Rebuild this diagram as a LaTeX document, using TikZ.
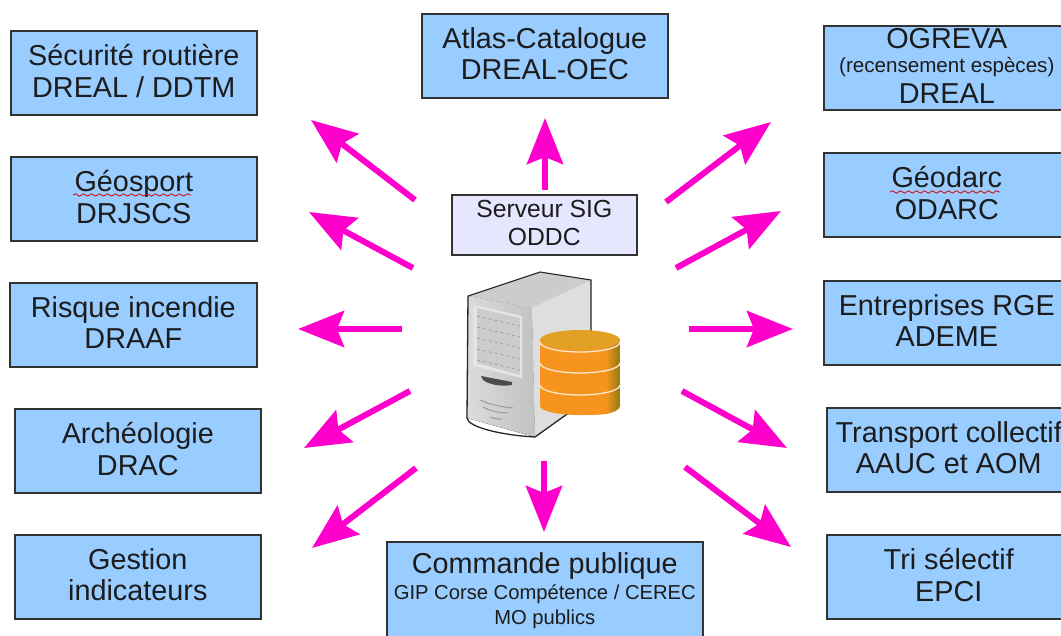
\documentclass[tikz,border=0pt]{standalone}
\usepackage{fontspec}
\setmainfont{Liberation Sans}
\usetikzlibrary{arrows.meta,decorations.pathmorphing}
\definecolor{boxblue}{HTML}{99CCFF}
\definecolor{boxlav}{HTML}{E6E6FF}
\definecolor{edgegrey}{HTML}{333333}
\definecolor{txt}{HTML}{1C1C1C}
\definecolor{arrowpink}{HTML}{FF00CC}
\definecolor{cylo}{HTML}{F7941D}
\definecolor{cylt}{HTML}{E2A024}
\definecolor{cyld}{HTML}{8F7A10}
\tikzset{
  x=1pt,y=-1pt,
  infobox/.style={draw=edgegrey,line width=1.7pt,fill=boxblue,anchor=north west,inner sep=0pt,outer sep=0pt,
    align=center,text=txt,font=\fontsize{28.8}{31.5}\selectfont},
  srvbox/.style={infobox,fill=boxlav,font=\fontsize{24.7}{28}\selectfont},
  flow/.style={draw=arrowpink,line width=6pt,-{Stealth[length=46pt,width=36pt,inset=7pt,fill=arrowpink]}},
  squiggle/.style={draw=red!85!black,line width=0.8pt,decorate,decoration={snake,amplitude=1.2pt,segment length=8pt}},
  band/.style={draw=white!78!cylo,line width=1.3pt}
}
\newcommand{\bx}[7]{\node[#1,minimum width=#4 pt-#2 pt,minimum height=#5 pt-#3 pt] (#6) at (#2+0.8,#3+0.8) {#7\par\vspace{4pt}};}
\begin{document}
\begin{tikzpicture}
\useasboundingbox (0,0) rectangle (1061,635);
\clip (0,0) rectangle (1061,635);
\fill[white] (0,0) rectangle (1061,635);
% boxes
\bx{infobox}{10}{30}{256}{114}{secu}{Sécurité routière\\DREAL / DDTM}
\bx{infobox}{10}{156}{256}{240}{geos}{Géosport\\DRJSCS}
\bx{infobox}{9}{282}{256}{366}{risq}{Risque incendie\\DRAAF}
\bx{infobox}{14}{408}{260}{492}{arch}{Archéologie\\DRAC}
\bx{infobox}{14}{534}{260}{618}{gest}{Gestion\\indicateurs}
\bx{infobox}{421}{13}{667}{97}{atlas}{Atlas-Catalogue\\DREAL-OEC}
\bx{infobox}{823}{25}{1069}{109}{ogre}{OGREVA\\[-7pt]{\fontsize{20.6}{22}\selectfont (recensement espèces)}\\[-1pt]DREAL}
\bx{infobox}{823}{152}{1069}{236}{geod}{Géodarc\\ODARC}
\bx{infobox}{823}{280}{1069}{364}{entr}{Entreprises RGE\\ADEME}
\bx{infobox}{826}{407}{1070}{491}{tran}{Transport collectif\\AAUC et AOM}
\bx{infobox}{826}{534}{1070}{618}{tri}{Tri sélectif\\EPCI}
\bx{infobox}{386}{541}{702}{642}{comm}{Commande publique\\[-5pt]{\fontsize{20.2}{23}\selectfont GIP Corse Compétence / CEREC}\\[-7pt]{\fontsize{20.2}{23}\selectfont MO publics}}
\bx{srvbox}{451}{194}{636}{254}{serv}{Serveur SIG\\ODDC}
% spell-check squiggles
\coordinate (g1) at (73,195); \coordinate (g2) at (191,195);
\coordinate (d1) at (890,192); \coordinate (d2) at (1000,192);
\draw[squiggle] (g1) -- (g2);
\draw[squiggle] (d1) -- (d2);
% server tower
\coordinate (ftl) at (468,296); \coordinate (tb) at (540,272); \coordinate (tr) at (591,280);
\coordinate (ftr) at (532,308); \coordinate (fbr) at (535,437); \coordinate (fbl) at (467,418);
\coordinate (sbr) at (591,397);
\fill[left color=white!86!black,right color=white!76!black] (ftl) -- (ftr) -- (fbr) -- (fbl) -- cycle;
\fill[white!87!black] (ftr) -- (tr) -- (sbr) -- (fbr) -- cycle;
\fill[white!80!black] (ftl) -- (tb) -- (tr) -- (ftr) -- cycle;
\draw[black!85,line width=1.1pt] (ftl) -- (tb) -- (tr) -- (sbr);
\draw[black!85,line width=1.3pt] (ftl) -- (fbl) .. controls (468,427) and (500,435) .. (fbr) -- (sbr);
\fill[white!90!black] (473,305) -- (522,316) -- (522,378) -- (473,366) -- cycle;
\fill[white!80!black] (477,308) -- (520,318) -- (520,375) -- (477,363) -- cycle;
\foreach \y in {0,1,2,3,4}
  \draw[white!62!black,line width=0.8pt,dashed] (477,316+11*\y) -- (520,326+11*\y);
\fill[black!70] (481,376) -- (512,382) -- (512,385) .. controls (500,387) and (488,384) .. (483,380) -- cycle;
\draw[white!60!black,line width=1pt] (480,400) .. controls (490,405) and (503,407) .. (513,408);
\draw[white!60!black,line width=1pt] (483,407) .. controls (490,411) and (500,413) .. (508,413);
\draw[white!60!black,line width=1pt] (490,417) .. controls (494,419) and (498,419) .. (502,419);
% database cylinder
\fill[cylo] (540,340) -- (606,340) -- (606,414) .. controls (598,415) and (590,415) .. (580,415) .. controls (558,415) and (540,411) .. (540,406) -- cycle;
\shade[left color=cylo,right color=cyld] (606,340) -- (620,340) -- (620,406) .. controls (620,410) and (612,413) .. (606,414) -- cycle;
\fill[cylt] (580,340) ellipse[x radius=40,y radius=10];
\draw[band] (540,342) arc[start angle=180,end angle=0,x radius=40,y radius=10];
\draw[band] (540,363) arc[start angle=180,end angle=0,x radius=40,y radius=10];
\draw[band] (540,385) arc[start angle=180,end angle=0,x radius=40,y radius=10];
% arrow ends
\foreach \n/\x/\y in {
 a1s/415/200,a1e/311/120, a2s/413/268,a2e/309/212, a3s/402/329,a3e/298/329,
 a4s/410/391,a4e/304/448, a5s/416/468,a5e/312/548, a6s/544/461,a6e/544/532,
 a7s/682/391,a7e/787/448, a8s/685/467,a8e/791/547, a9s/689/329,a9e/793/329,
 a10s/676/268,a10e/781/211, a11s/666/202,a11e/771/122, a12s/545/190,a12e/545/118}
  \coordinate (\n) at (\x,\y);
\foreach \i in {1,...,12} \draw[flow] (a\i s) -- (a\i e);
\end{tikzpicture}
\end{document}
